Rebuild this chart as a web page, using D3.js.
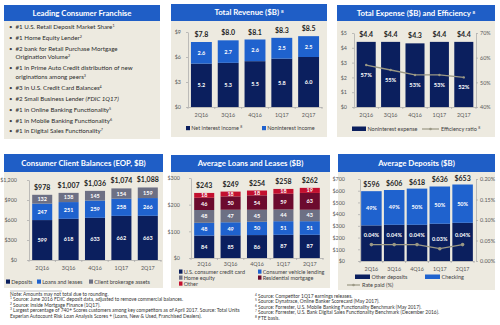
<!DOCTYPE html>
<meta charset="utf-8">
<style>
body { margin: 0; background: #fff; }
text { font-family: Lato, "Open Sans", sans-serif; }
</style>
<svg width="500" height="325"></svg>
<script src="https://d3js.org/d3.v7.min.js"></script>
<script>

var quarters = ["2Q16", "3Q16", "4Q16", "1Q17", "2Q17"];

// franchise bullets: text ("|" splits lines), footnote, italic tail
var franchise = [
  ["#1 U.S. Retail Deposit Market Share", "1"],
  ["#1 Home Equity Lender", "2"],
  ["#2 bank for Retail Purchase Mortgage|Origination Volume", "2"],
  ["#1 in Prime Auto Credit distribution of new|originations among peers", "3"],
  ["#3 in U.S. Credit Card Balances", "4"],
  ["#2 Small Business Lender ", "", "(FDIC 1Q17)"],
  ["#1 in Online Banking Functionality", "5"],
  ["#1 in Mobile Banking Functionality", "6"],
  ["#1 in Digital Sales Functionality", "7"]
];

// total revenue ($B)
var revNII = [5.2, 5.3, 5.5, 5.8, 6.0];
var revNonII = [2.6, 2.7, 2.6, 2.5, 2.5];
var revTotal = [7.8, 8.0, 8.1, 8.3, 8.5];

// total expense ($B) and efficiency ratio (%)
var expense = [4.4, 4.4, 4.3, 4.4, 4.4];
var efficiency = [57, 55, 53, 53, 52];

// consumer client balances (EOP, $B)
var balDeposits = [599, 618, 633, 662, 663];
var balLoans = [247, 251, 259, 258, 266];
var balBrokerage = [132, 138, 145, 154, 159];
var balTotal = ["$978", "$1,007", "$1,036", "$1,074", "$1,088"];

// average loans and leases ($B)
var loanCard = [84, 85, 86, 87, 87];
var loanVehicle = [48, 49, 50, 51, 51];
var loanHomeEq = [48, 47, 45, 44, 43];
var loanMortgage = [46, 50, 54, 59, 63];
var loanOther = [18, 18, 18, 18, 19];
var loanTotal = ["$243", "$249", "$254", "$258", "$262"];

// average deposits ($B), checking share and rate paid
var depOther = [304, 309, 309, 318, 326];
var depChecking = [292, 297, 309, 318, 327];
var depTotal = ["$596", "$606", "$618", "$636", "$653"];
var checkingPct = ["49%", "49%", "50%", "50%", "50%"];
var ratePaid = [0.04, 0.04, 0.04, 0.03, 0.04];

var notesLeft = [
  ["", "Note: Amounts may not total due to rounding."],
  ["1", " Source: June 2016 FDIC deposit data, adjusted to remove commercial balances."],
  ["2", " Source: Inside Mortgage Finance (1Q17)."],
  ["3", " Largest percentage of 740+ Scores customers among key competitors as of April 2017. Source: Total Units"],
  ["", "   Experian Autocount Risk Loan Analysis Scores + (Loans, New & Used, Franchised Dealers)."]
];
var notesRight = [
  ["4", " Source: Competitor 1Q17 earnings releases."],
  ["5", " Source: Dynatrace, Online Banker Scorecard (May 2017)."],
  ["6", " Source: Forrester, U.S. Mobile Banking Functionality Benchmark (May 2017)."],
  ["7", " Source: Forrester, U.S. Bank Digital Sales Functionality Benchmark (December 2016)."],
  ["8", " FTE basis."]
];

var NAVY = "#0B1F5E", BLUE = "#1F62CE", GREY = "#6D7084", MAROON = "#6C0B2E",
    RED = "#C3102F", HEAD = "#1F5EC6", BEIGE = "#EDEAE0", LINE = "#9B9884",
    AXIS = "#A6A6A6", TICK = "#595959", INK = "#262626";

var svg = d3.select("svg");

function sup(t, s, size) {
  if (s) t.append("tspan").attr("font-size", size).attr("baseline-shift", "super").text(s);
}

function panel(x, y, w, h, hh, title, s) {
  svg.append("rect").attr("x", x).attr("y", y).attr("width", w).attr("height", h).attr("fill", BEIGE);
  svg.append("rect").attr("x", x).attr("y", y).attr("width", w).attr("height", hh).attr("fill", HEAD);
  var t = svg.append("text").attr("x", x + w / 2).attr("y", y + hh / 2 + 2.8)
    .attr("text-anchor", "middle").attr("fill", "#fff").attr("font-weight", "bold")
    .attr("font-size", 7.8).text(title);
  sup(t, s, 4.5);
}

function styleAxis(g) {
  g.select(".domain").attr("stroke", AXIS).attr("stroke-width", 0.7);
  g.selectAll(".tick line").attr("stroke", AXIS).attr("stroke-width", 0.7);
  g.selectAll(".tick text").attr("fill", TICK).attr("font-size", 5.4).style("font-family", "Lato, sans-serif");
}

function leftAxis(x, y, ticks, fmt, pad) {
  svg.append("g").attr("transform", "translate(" + x + ",0)")
    .call(d3.axisLeft(y).tickValues(ticks).tickFormat(fmt).tickSize(2).tickPadding(pad).tickSizeOuter(0))
    .call(styleAxis);
}

function rightAxis(x, y, ticks, fmt, pad) {
  svg.append("g").attr("transform", "translate(" + x + ",0)")
    .call(d3.axisRight(y).tickValues(ticks).tickFormat(fmt).tickSize(2).tickPadding(pad).tickSizeOuter(0))
    .call(styleAxis);
}

function bottomAxis(xb, y0, pad) {
  var g = svg.append("g").attr("transform", "translate(0," + y0 + ")")
    .call(d3.axisBottom(xb).tickSize(0).tickPadding(pad).tickSizeOuter(0))
    .call(styleAxis);
  var r = xb.range(), step = xb.step();
  g.selectAll(".sep").data(d3.range(quarters.length + 1)).enter().append("line")
    .attr("x1", function(i) { return r[0] + i * step; })
    .attr("x2", function(i) { return r[0] + i * step; })
    .attr("y1", 0).attr("y2", 2).attr("stroke", AXIS).attr("stroke-width", 0.7);
}

// stacked bars from a list of series, bottom first
function stacked(xb, y, series, colors, inner) {
  var rows = quarters.map(function(q, i) {
    var r = { q: q };
    series.forEach(function(s, k) { r["s" + k] = s[i]; });
    return r;
  });
  var keys = series.map(function(s, k) { return "s" + k; });
  var layers = d3.stack().keys(keys)(rows);
  layers.forEach(function(layer, k) {
    svg.append("g").selectAll("rect").data(layer).enter().append("rect")
      .attr("x", function(d) { return xb(d.data.q); })
      .attr("y", function(d) { return y(d[1]); })
      .attr("width", xb.bandwidth())
      .attr("height", function(d) { return y(d[0]) - y(d[1]); })
      .attr("fill", colors[k]);
    if (inner && inner[k]) {
      svg.append("g").selectAll("text").data(layer).enter().append("text")
        .attr("x", function(d) { return xb(d.data.q) + xb.bandwidth() / 2; })
        .attr("y", function(d) { return (y(d[0]) + y(d[1])) / 2 + 2; })
        .attr("text-anchor", "middle").attr("fill", "#fff").attr("font-weight", "bold")
        .attr("font-size", 5.5)
        .text(function(d, i) { return inner[k](d, i); });
    }
  });
  return layers;
}

function totals(xb, y, tops, labels, off) {
  svg.append("g").selectAll("text").data(quarters).enter().append("text")
    .attr("x", function(q) { return xb(q) + xb.bandwidth() / 2; })
    .attr("y", function(q, i) { return y(tops[i]) - off; })
    .attr("text-anchor", "middle").attr("fill", INK).attr("font-weight", "bold")
    .attr("font-size", 7)
    .text(function(q, i) { return labels[i]; });
}

function swatch(x, y, w, color, label, s) {
  svg.append("rect").attr("x", x).attr("y", y - 4).attr("width", w).attr("height", 4.2).attr("fill", color);
  var t = svg.append("text").attr("x", x + w + 1.2).attr("y", y).attr("fill", "#404040")
    .attr("font-size", 5.5).text(label);
  sup(t, s, 3.5);
}

function lineKey(x, y, len, label) {
  svg.append("line").attr("x1", x).attr("x2", x + len).attr("y1", y - 2).attr("y2", y - 2)
    .attr("stroke", LINE).attr("stroke-width", 1.2);
  svg.append("circle").attr("cx", x + len / 2).attr("cy", y - 2).attr("r", 1.3).attr("fill", LINE);
  return svg.append("text").attr("x", x + len + 2).attr("y", y).attr("fill", "#404040")
    .attr("font-size", 5.5).text(label);
}

function fixed(v) { return (+v).toFixed(1); }

// ---- Leading Consumer Franchise
panel(4, 5, 156, 134, 16, "Leading Consumer Franchise");
(function() {
  var yy = 29;
  franchise.forEach(function(item) {
    var lines = item[0].split("|");
    svg.append("text").attr("x", 9).attr("y", yy).attr("fill", "#404040")
      .attr("font-size", 6).text("\u2022");
    lines.forEach(function(l, j) {
      var t = svg.append("text").attr("x", 15.5).attr("y", yy + j * 8.6)
        .attr("fill", "#2b2b2b").attr("font-size", 6.2).text(l);
      if (j === lines.length - 1) {
        if (item[2]) t.append("tspan").attr("font-style", "italic").text(item[2]);
        sup(t, item[1], 3.7);
      }
    });
    yy += (lines.length - 1) * 8.6 + 10.9;
  });
})();

// ---- Total Revenue
panel(171, 4, 156, 133, 17, "Total Revenue ($B) ", "8");
(function() {
  var xb = d3.scaleBand().domain(quarters).range([188, 322]).paddingInner(0.22).paddingOuter(0.11);
  var y = d3.scaleLinear().domain([0, 9]).range([107, 32]);
  leftAxis(188, y, [0, 3, 6, 9], function(d) { return "$" + d; }, 5);
  stacked(xb, y, [revNII, revNonII], [NAVY, BLUE],
    [function(d) { return fixed(d[1] - d[0]); }, function(d) { return fixed(d[1] - d[0]); }]);
  bottomAxis(xb, 107, 6);
  totals(xb, y, revTotal, revTotal.map(function(v) { return "$" + v.toFixed(1); }), 5);
  swatch(186, 130, 4, NAVY, "Net interest income ", "8");
  swatch(262, 130, 4, BLUE, "Noninterest income");
})();

// ---- Total Expense and Efficiency
panel(337, 5, 158, 132, 16, "Total Expense ($B) and Efficiency ", "8");
(function() {
  var xb = d3.scaleBand().domain(quarters).range([354, 476]).paddingInner(0.22).paddingOuter(0.11);
  var y = d3.scaleLinear().domain([0, 5]).range([107, 33]);
  var yr = d3.scaleLinear().domain([40, 70]).range([107, 33]);
  leftAxis(354, y, [0, 1, 2, 3, 4, 5], function(d) { return "$" + d; }, 5);
  rightAxis(476, yr, [40, 50, 60, 70], function(d) { return d + "%"; }, 2);
  stacked(xb, y, [expense], [NAVY]);
  bottomAxis(xb, 107, 6);
  totals(xb, y, expense, expense.map(function(v) { return "$" + v.toFixed(1); }), 5);
  var cx = function(q) { return xb(q) + xb.bandwidth() / 2; };
  svg.append("path").datum(efficiency)
    .attr("d", d3.line().x(function(d, i) { return cx(quarters[i]); }).y(function(d) { return yr(d); }))
    .attr("fill", "none").attr("stroke", LINE).attr("stroke-width", 1.3);
  svg.append("g").selectAll("circle").data(efficiency).enter().append("circle")
    .attr("cx", function(d, i) { return cx(quarters[i]); }).attr("cy", function(d) { return yr(d); })
    .attr("r", 1.2).attr("fill", LINE);
  svg.append("g").selectAll("text").data(efficiency).enter().append("text")
    .attr("x", function(d, i) { return cx(quarters[i]); }).attr("y", function(d) { return yr(d) + 12; })
    .attr("text-anchor", "middle").attr("fill", "#fff").attr("font-weight", "bold")
    .attr("font-size", 5.7).text(function(d) { return d + "%"; });
  svg.append("rect").attr("x", 352).attr("y", 126.5).attr("width", 14).attr("height", 4.5).attr("fill", NAVY);
  svg.append("text").attr("x", 367.5).attr("y", 131).attr("fill", "#404040").attr("font-size", 5.5).text("Noninterest expense");
  sup(lineKey(422, 131, 17, "Efficiency ratio "), "8", 3.5);
})();

// ---- Consumer Client Balances
panel(4, 154, 159, 134, 18, "Consumer Client Balances (EOP, $B)");
(function() {
  var xb = d3.scaleBand().domain(quarters).range([29, 161]).paddingInner(0.24).paddingOuter(0.12);
  var y = d3.scaleLinear().domain([0, 1200]).range([260, 180]);
  leftAxis(29, y, [0, 300, 600, 900, 1200], function(d) { return "$" + d3.format(",")(d); }, 10);
  var lab = function(d) { return d[1] - d[0]; };
  stacked(xb, y, [balDeposits, balLoans, balBrokerage], [NAVY, BLUE, GREY], [lab, lab, lab]);
  bottomAxis(xb, 260, 6);
  var tops = quarters.map(function(q, i) { return balDeposits[i] + balLoans[i] + balBrokerage[i]; });
  totals(xb, y, tops, balTotal, 5);
  swatch(6, 283.5, 4, NAVY, "Deposits");
  swatch(37, 283.5, 4, BLUE, "Loans and leases");
  swatch(89, 283.5, 4, GREY, "Client brokerage assets");
})();

// ---- Average Loans and Leases
panel(171, 155, 159, 133, 17, "Average Loans and Leases ($B)");
(function() {
  var xb = d3.scaleBand().domain(quarters).range([191, 323]).paddingInner(0.24).paddingOuter(0.12);
  var y = d3.scaleLinear().domain([0, 300]).range([258, 178]);
  leftAxis(191, y, [0, 100, 200, 300], function(d) { return "$" + d; }, 9);
  var lab = function(d) { return d[1] - d[0]; };
  stacked(xb, y, [loanCard, loanVehicle, loanHomeEq, loanMortgage, loanOther],
    [NAVY, BLUE, GREY, MAROON, RED], [lab, lab, lab, lab, lab]);
  bottomAxis(xb, 258, 4);
  var tops = quarters.map(function(q, i) {
    return loanCard[i] + loanVehicle[i] + loanHomeEq[i] + loanMortgage[i] + loanOther[i];
  });
  totals(xb, y, tops, loanTotal, 4.5);
  swatch(179, 273.5, 3.5, NAVY, "U.S. consumer credit card");
  swatch(258, 273.5, 3.5, BLUE, "Consumer vehicle lending");
  swatch(179, 279.5, 3.5, GREY, "Home equity");
  swatch(258, 279.5, 3.5, MAROON, "Residential mortgage");
  swatch(179, 285.5, 3.5, RED, "Other");
})();

// ---- Average Deposits
panel(338, 154, 157, 136, 18, "Average Deposits ($B)");
(function() {
  var xb = d3.scaleBand().domain(quarters).range([360, 474]).paddingInner(0.1).paddingOuter(0.05);
  var y = d3.scaleLinear().domain([0, 700]).range([261, 179]);
  var yr = d3.scaleLinear().domain([0, 0.2]).range([261, 179]);
  leftAxis(360, y, d3.range(0, 701, 100), function(d) { return "$" + d; }, 13);
  rightAxis(476, yr, [0, 0.05, 0.1, 0.15, 0.2], function(d) { return d.toFixed(2) + "%"; }, 2);
  stacked(xb, y, [depOther, depChecking], [NAVY, BLUE],
    [null, function(d, i) { return checkingPct[i]; }]);
  bottomAxis(xb, 261, 6);
  var tops = quarters.map(function(q, i) { return depOther[i] + depChecking[i]; });
  totals(xb, y, tops, depTotal, 4);
  var cx = function(q) { return xb(q) + xb.bandwidth() / 2; };
  svg.append("path").datum(ratePaid)
    .attr("d", d3.line().x(function(d, i) { return cx(quarters[i]); }).y(function(d) { return yr(d); }))
    .attr("fill", "none").attr("stroke", LINE).attr("stroke-width", 1.3);
  svg.append("g").selectAll("circle").data(ratePaid).enter().append("circle")
    .attr("cx", function(d, i) { return cx(quarters[i]); }).attr("cy", function(d) { return yr(d); })
    .attr("r", 1.8).attr("fill", LINE);
  svg.append("g").selectAll("text").data(ratePaid).enter().append("text")
    .attr("x", function(d, i) { return cx(quarters[i]); }).attr("y", function(d) { return yr(d) - 8; })
    .attr("text-anchor", "middle").attr("fill", "#fff").attr("font-weight", "bold")
    .attr("font-size", 5.5).text(function(d) { return d.toFixed(2) + "%"; });
  svg.append("rect").attr("x", 355).attr("y", 274.5).attr("width", 15).attr("height", 4.5).attr("fill", NAVY);
  svg.append("text").attr("x", 371.5).attr("y", 279).attr("fill", "#404040").attr("font-size", 5.5).text("Other deposits");
  svg.append("rect").attr("x", 425).attr("y", 274.5).attr("width", 15).attr("height", 4.5).attr("fill", BLUE);
  svg.append("text").attr("x", 441.5).attr("y", 279).attr("fill", "#404040").attr("font-size", 5.5).text("Checking");
  lineKey(347, 287, 13, "Rate paid (%)");
})();

// ---- footnotes
svg.append("line").attr("x1", 10).attr("x2", 62).attr("y1", 291).attr("y2", 291)
  .attr("stroke", "#7f7f7f").attr("stroke-width", 0.5);
function notes(list, x, y0) {
  list.forEach(function(n, i) {
    var t = svg.append("text").attr("x", x).attr("y", y0 + i * 5.4).attr("fill", "#333")
      .attr("font-size", 4.9);
    if (n[0]) t.append("tspan").attr("font-size", 3.2).attr("baseline-shift", "super").text(n[0]);
    t.append("tspan").text(n[1]);
  });
}
notes(notesLeft, 10, 296);
notes(notesRight, 255, 298);

</script>
